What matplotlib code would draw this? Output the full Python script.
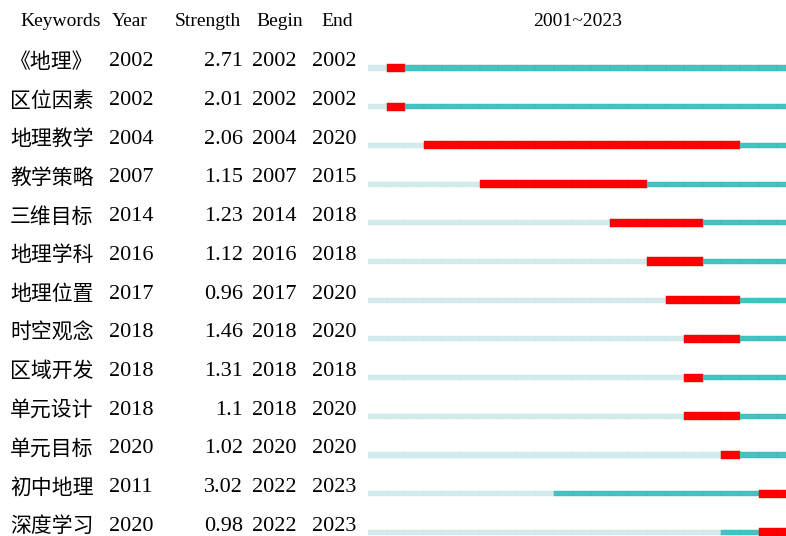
import matplotlib
matplotlib.use("Agg")
import matplotlib.pyplot as plt

# data
keywords = ['《地理》', '区位因素', '地理教学', '教学策略', '三维目标', '地理学科', '地理位置',
            '时空观念', '区域开发', '单元设计', '单元目标', '初中地理', '深度学习']
years = [2002, 2002, 2004, 2007, 2014, 2016, 2017, 2018, 2018, 2018, 2020, 2011, 2020]
strength = ['2.71', '2.01', '2.06', '1.15', '1.23', '1.12', '0.96', '1.46', '1.31', '1.1',
            '1.02', '3.02', '0.98']
begin = [2002, 2002, 2004, 2007, 2014, 2016, 2017, 2018, 2018, 2018, 2020, 2022, 2022]
end = [2002, 2002, 2020, 2015, 2018, 2018, 2020, 2020, 2018, 2020, 2020, 2023, 2023]
first_year, last_year = 2001, 2023

light = '#d3ebed'
teal = '#45c2c2'
red = '#ff0000'

W, H = 786, 536
fig = plt.figure(figsize=(W / 100, H / 100), dpi=100)

# row i sits at pixel y = 68 + 38.7*i
y_top = (0 - 68) / 38.7
y_bot = (H - 68) / 38.7

# timeline axes, one year = 18.6 px, starting at x=368 px
ax = fig.add_axes([368 / W, 0, (23 * 18.6) / W, 1])
ax.set_xlim(first_year, last_year + 1)
ax.set_ylim(y_bot, y_top)
ax.axis('off')

for i in range(len(keywords)):
    for yr in range(first_year, last_year + 1):
        if begin[i] <= yr <= end[i]:
            ax.barh(i, 1, left=yr, height=0.21, color=red, edgecolor='#e00000', linewidth=0.3)
        elif yr >= years[i]:
            ax.barh(i, 1, left=yr, height=0.13, color=teal, edgecolor='#3ab3b3', linewidth=0.3)
        else:
            ax.barh(i, 1, left=yr, height=0.13, color=light, edgecolor='#c8e3e5', linewidth=0.3)

# text axes in pixel x, same row units in y
tx = fig.add_axes([0, 0, 1, 1])
tx.set_xlim(0, W)
tx.set_ylim(y_bot, y_top)
tx.axis('off')

serif = ['Liberation Serif', 'Noto Sans CJK SC']
cjk = ['Noto Sans CJK SC', 'DejaVu Sans']
hy = -1.2
hs = 14
tx.text(20, hy, 'Keywords', family=serif, fontsize=hs, va='center')
tx.text(112, hy, 'Year', family=serif, fontsize=hs, va='center')
tx.text(175, hy, 'Strength', family=serif, fontsize=hs, va='center')
tx.text(256, hy, 'Begin', family=serif, fontsize=hs, va='center')
tx.text(321, hy, 'End', family=serif, fontsize=hs, va='center')
tx.text(578, hy, '%d~%d' % (first_year, last_year), family=serif, fontsize=hs,
        va='center', ha='center')

for i in range(len(keywords)):
    ty = i - 0.16
    tx.text(10, ty, keywords[i], family=cjk, fontsize=15, va='center')
    tx.text(109, ty, str(years[i]), family=serif, fontsize=16, va='center')
    tx.text(243, ty, strength[i], family=serif, fontsize=16, va='center', ha='right')
    tx.text(252, ty, str(begin[i]), family=serif, fontsize=16, va='center')
    tx.text(312, ty, str(end[i]), family=serif, fontsize=16, va='center')

fig.savefig('out.png', dpi=100)
